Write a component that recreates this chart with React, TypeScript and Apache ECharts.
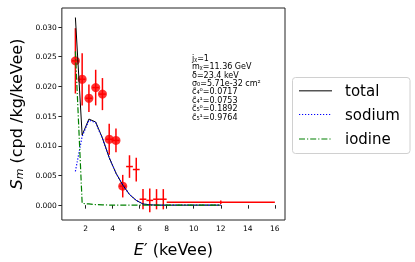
import React, { useEffect, useRef } from "react";
import * as echarts from "echarts";

// Measured data (bin centres in keVee)
const binCenters = [1.25, 1.75, 2.25, 2.75, 3.25, 3.75, 4.25, 4.75, 5.25, 5.75, 6.25, 6.75, 7.25, 7.75, 12];
const observed = [0.0243, 0.0212, 0.018, 0.0198, 0.0187, 0.0111, 0.0109, 0.0032, 0.0065, 0.006, 0.001, 0.0008, 0.001, 0.001, 0.0005];
const yErrors = [0.0055, 0.0044, 0.0023, 0.003, 0.0027, 0.0026, 0.002, 0.0019, 0.0019, 0.002, 0.0017, 0.002, 0.0017, 0.0017, 0.0003];
const xErrors = [0.25, 0.25, 0.25, 0.25, 0.25, 0.25, 0.25, 0.25, 0.25, 0.25, 0.25, 0.25, 0.25, 0.25, 4];
const hasMarker = [true, true, true, true, true, true, true, true, false, false, false, false, false, false, false];

// Model curves evaluated at the bin centres
const totalRate = [0.0316, 0.0118, 0.0145, 0.014, 0.0113, 0.008, 0.0054, 0.0034, 0.0018, 0.0008, 0.0002, 0.00005, 0.00001, 0, 0];
const sodiumRate = [0.0057, 0.0116, 0.0143, 0.0139, 0.0112, 0.008, 0.0054, 0.0034, 0.0018, 0.0008, 0.0002, 0.00005, 0.00001, 0, 0];
const iodineRate = [0.0259, 0.0003, 0.0002, 0.0001, 0.00005, 0.00002, 0.00001, 0, 0, 0, 0, 0, 0, 0, 0];

const xTicks = [2, 4, 6, 8, 10, 12, 14, 16];
const yTicks = [0, 0.005, 0.01, 0.015, 0.02, 0.025, 0.03];

const seriesNames = ["total", "sodium", "iodine"];
const seriesColors = ["#000000", "#0000ff", "#008000"];

const annotation = [
  "jᵪ=1",
  "mᵪ=11.36 GeV",
  "δ=23.4 keV",
  "σ₀=5.71e-32 cm²",
  "c̃₄⁰=0.0717",
  "c̃₄¹=0.0753",
  "c̃₅⁰=0.1892",
  "c̃₅¹=0.9764",
];

export default function App() {
  const ref = useRef<HTMLDivElement>(null);
  useEffect(() => {
    if (!ref.current) return;
    const chart = echarts.init(ref.current, null, { renderer: "svg" });
    const pair = (ys: number[]) => binCenters.map((x, i) => [x, ys[i]]);
    const errData = binCenters.map((x, i) => [x, observed[i], xErrors[i], yErrors[i]]);
    const markerData = binCenters.map((x, i) => [x, observed[i]]).filter((_, i) => hasMarker[i]);

    const legendDash: (number[] | null)[] = [null, [1.2, 1.8], [6, 2, 1.2, 2]];
    const legendY = [90.7, 114.5, 139];
    const legendGraphics: any[] = [
      {
        type: "rect",
        shape: { x: 292.5, y: 77.5, width: 117.5, height: 76, r: 3 },
        style: { fill: "#fff", stroke: "#d0d0d0", lineWidth: 1 },
        z: 10,
      },
    ];
    seriesNames.forEach((n, i) => {
      legendGraphics.push({
        type: "line",
        shape: { x1: 299, y1: legendY[i], x2: 332, y2: legendY[i] },
        style: {
          stroke: i === 0 ? "#555" : seriesColors[i],
          lineWidth: i === 0 ? 1.5 : 1.2,
          lineDash: legendDash[i] || undefined,
        },
        z: 11,
      });
      legendGraphics.push({
        type: "text",
        x: 345,
        y: legendY[i],
        style: {
          text: n,
          fontSize: 15,
          fill: "#000",
          fontFamily: "DejaVu Sans",
          verticalAlign: "middle",
        },
        z: 11,
      });
    });

    chart.setOption({
      animation: false,
      textStyle: { fontFamily: "DejaVu Sans" },
      grid: {
        left: 55,
        top: 8,
        right: 130,
        bottom: 39,
        show: true,
        borderColor: "#222",
        borderWidth: 1,
        backgroundColor: "transparent",
      },
      xAxis: {
        type: "value",
        min: 0.25,
        max: 16.75,
        axisLine: { show: false },
        splitLine: { show: false },
        axisTick: { show: true, inside: false, length: 3.5, customValues: xTicks, lineStyle: { color: "#222" } },
        axisLabel: { customValues: xTicks, fontSize: 7.5, color: "#000", margin: 4 },
        name: "{e|E}′ (keVee)",
        nameLocation: "middle",
        nameGap: 21,
        nameTextStyle: {
          fontSize: 16,
          color: "#000",
          rich: { e: { fontSize: 16, fontStyle: "italic", color: "#000" } },
        },
      },
      yAxis: {
        type: "value",
        min: -0.0025,
        max: 0.0332,
        axisLine: { show: false },
        splitLine: { show: false },
        axisTick: { show: true, inside: false, length: 3.5, customValues: yTicks, lineStyle: { color: "#222" } },
        axisLabel: {
          customValues: yTicks,
          fontSize: 7.5,
          color: "#000",
          margin: 5,
          formatter: (v: number) => v.toFixed(3),
        },
        name: "{s|S}{m|m} (cpd /kg/keVee)",
        nameLocation: "middle",
        nameRotate: 90,
        nameGap: 37,
        nameTextStyle: {
          fontSize: 16,
          color: "#000",
          rich: {
            s: { fontSize: 16, fontStyle: "italic", color: "#000" },
            m: { fontSize: 11, fontStyle: "italic", color: "#000", padding: [6, 0, 0, 0] },
          },
        },
      },
      graphic: [
        {
          type: "text",
          left: 192,
          top: 54,
          style: {
            text: annotation.join("\n"),
            fontSize: 8,
            lineHeight: 8.4,
            fill: "#000",
            fontFamily: "DejaVu Sans",
          },
        },
        ...legendGraphics,
      ],
      series: [
        {
          type: "custom",
          name: "data",
          data: errData,
          z: 2,
          renderItem: (params: any, api: any) => {
            const x = api.value(0);
            const y = api.value(1);
            const xe = api.value(2);
            const ye = api.value(3);
            const a = api.coord([x, y - ye]);
            const b = api.coord([x, y + ye]);
            const c = api.coord([x - xe, y]);
            const d = api.coord([x + xe, y]);
            const st = { stroke: "#ff0000", lineWidth: 1.5 };
            return {
              type: "group",
              children: [
                { type: "line", shape: { x1: a[0], y1: a[1], x2: b[0], y2: b[1] }, style: st },
                { type: "line", shape: { x1: c[0], y1: c[1], x2: d[0], y2: d[1] }, style: st },
              ],
            };
          },
        },
        {
          type: "scatter",
          name: "points",
          data: markerData,
          symbol: "circle",
          symbolSize: 9,
          itemStyle: { color: "#ff0000" },
          z: 3,
        },
        {
          type: "line",
          name: seriesNames[0],
          data: pair(totalRate),
          symbol: "none",
          lineStyle: { color: seriesColors[0], width: 1 },
          z: 4,
        },
        {
          type: "line",
          name: seriesNames[1],
          data: pair(sodiumRate),
          symbol: "none",
          lineStyle: { color: seriesColors[1], width: 1.2, type: [1.2, 1.8] },
          z: 5,
        },
        {
          type: "line",
          name: seriesNames[2],
          data: pair(iodineRate),
          symbol: "none",
          lineStyle: { color: seriesColors[2], width: 1.2, type: [6, 2, 1.2, 2] },
          z: 6,
        },
      ],
    });
    return () => chart.dispose();
  }, []);
  return <div ref={ref} style={{ position: "fixed", left: 0, top: 0, width: 415, height: 262 }} />;
}
